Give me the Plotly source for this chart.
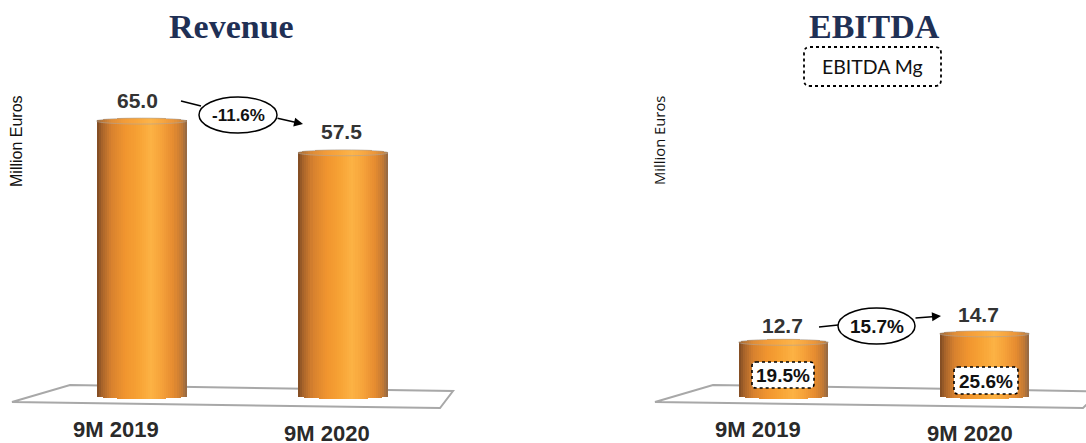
import plotly.graph_objects as go
import numpy as np

# ---------------- data ----------------
categories = ["9M 2019", "9M 2020"]
revenue = [65.0, 57.5]
ebitda = [12.7, 14.7]
ebitda_margin = ["19.5%", "25.6%"]
revenue_change = "-11.6%"
ebitda_change = "15.7%"
titles = ["Revenue", "EBITDA"]
y_title = "Million Euros"
margin_box_title = "EBITDA Mg"

W, H = 1086, 443
def X(px): return px / W
def Y(py): return 1 - py / H

K = 4.23          # px per million euros
BASE_PX = 396     # pixel row of zero
ylo = -(H - BASE_PX) / K
yhi = BASE_PX / K

HW = 0.2235
HCAP = 3.0 / K
N = 44

stops = [(0.0, "#7E4A22"), (0.06, "#A9642A"), (0.16, "#D7812E"), (0.32, "#F1952F"),
         (0.48, "#F8A436"), (0.6, "#FCB244"), (0.72, "#F6A23A"), (0.85, "#E68C30"),
         (0.94, "#C47A34"), (1.0, "#8F6846")]

def hex2rgb(h):
    h = h.lstrip("#")
    return [int(h[i:i + 2], 16) for i in (0, 2, 4)]

def grad(t):
    for (t0, c0), (t1, c1) in zip(stops[:-1], stops[1:]):
        if t0 <= t <= t1:
            f = (t - t0) / (t1 - t0) if t1 > t0 else 0
            a, b = hex2rgb(c0), hex2rgb(c1)
            return "rgb(%d,%d,%d)" % tuple(round(a[i] + (b[i] - a[i]) * f) for i in range(3))
    return stops[-1][1]

fig = go.Figure()

def add_cylinders(values, xa, ya):
    xs = np.arange(len(values))
    sw = 2 * HW / N
    for k in range(N):
        off = -HW + (k + 0.5) * sw
        e = HCAP * np.sqrt(max(0.0, 1 - (off / HW) ** 2))
        fig.add_trace(go.Bar(
            x=xs + off, y=[v + 2 * e for v in values], base=[-e] * len(values),
            width=sw * 1.04, marker=dict(color=grad((k + 0.5) / N), line=dict(width=0)),
            xaxis=xa, yaxis=ya, showlegend=False, hoverinfo="skip"))
    for i, v in enumerate(values):
        fig.add_shape(type="circle", xref=xa, yref=ya,
                      x0=i - HW, x1=i + HW, y0=v - HCAP, y1=v + HCAP,
                      fillcolor="rgba(255,190,100,0.2)",
                      line=dict(color="rgba(175,165,155,0.6)", width=1))

add_cylinders(revenue, "x", "y")
add_cylinders(ebitda, "x2", "y2")

u1 = 201.5
u2 = 201.0
fig.update_layout(
    width=W, height=H, margin=dict(l=0, r=0, t=0, b=0),
    paper_bgcolor="white", plot_bgcolor="rgba(0,0,0,0)",
    barmode="overlay", bargap=0, showlegend=False,
    xaxis=dict(domain=[X(141.5 - 0.5 * u1), X(141.5 + 1.5 * u1)], range=[-0.5, 1.5],
               visible=False),
    yaxis=dict(domain=[0, 1], range=[ylo, yhi], visible=False),
    xaxis2=dict(domain=[X(783.5 - 0.5 * u2), min(1.0, X(783.5 + 1.5 * u2))], range=[-0.5, 1.5],
                visible=False, anchor="y2"),
    yaxis2=dict(domain=[0, 1], range=[ylo, yhi], visible=False, anchor="x2"),
)

def note(text, x, y, font, xref="paper", yref="paper", **kw):
    fig.add_annotation(text=text, xref=xref, yref=yref, x=x, y=y, showarrow=False,
                       xanchor="center", yanchor="middle", font=font, **kw)

# floor planes
floor_color = "#A8A8A8"
def floor(pts):
    path = "M " + " L ".join("%f,%f" % (X(a), Y(b)) for a, b in pts) + " Z"
    fig.add_shape(type="path", xref="paper", yref="paper", path=path, layer="below",
                  line=dict(color=floor_color, width=2), fillcolor="rgba(255,255,255,0)")
floor([(12, 402), (70, 385), (453, 391), (440, 408)])
floor([(655, 402), (713, 385), (1100, 391.5), (1083, 408)])

# titles
title_font = dict(family="Liberation Serif", size=34, color="#1F3055")
note("<b>%s</b>" % titles[0], X(231), Y(26), title_font)
note("<b>%s</b>" % titles[1], X(874), Y(26), title_font)

# y titles
note(y_title, X(17), Y(141), dict(family="Liberation Sans", size=16, color="#111111"),
     textangle=-90)
note(y_title, X(659), Y(141), dict(family="Open Sans", size=14.8, color="#111111"),
     textangle=-90)

# category labels
cat_font = dict(family="Liberation Sans", size=22, color="#2A2A2A")
for xa, shifts in (("x", [-26, -16]), ("x2", [-25.5, -14.5])):
    for i, c in enumerate(categories):
        note("<b>%s</b>" % c, i, Y([429, 433][i]), cat_font, xref=xa, xshift=shifts[i])

# value labels
val_font = dict(family="Liberation Sans", size=21, color="#333333")
for xa, ya, vals, xsh, ysh in (("x", "y", revenue, [-4, -1.5], [19, 19]),
                               ("x2", "y2", ebitda, [-1.5, -6.5], [15, 17])):
    for i, v in enumerate(vals):
        note("<b>%.1f</b>" % v, i, v, val_font, xref=xa, yref=ya,
             yshift=ysh[i] + 2, xshift=xsh[i])

# growth ellipses and arrows
def growth(text, cx, cy, w, h, l0, l1, a0, a1, size):
    fig.add_shape(type="circle", xref="paper", yref="paper",
                  x0=X(cx - w / 2), x1=X(cx + w / 2), y0=Y(cy + h / 2), y1=Y(cy - h / 2),
                  line=dict(color="black", width=1.5), fillcolor="white")
    fig.add_shape(type="line", xref="paper", yref="paper",
                  x0=X(l0[0]), y0=Y(l0[1]), x1=X(l1[0]), y1=Y(l1[1]),
                  line=dict(color="black", width=1.5))
    fig.add_annotation(text="", xref="paper", yref="paper", axref="pixel", ayref="pixel",
                       x=X(a1[0]), y=Y(a1[1]), ax=a0[0] - a1[0], ay=a0[1] - a1[1],
                       showarrow=True, arrowhead=2, arrowsize=1.2, arrowwidth=1.5,
                       arrowcolor="black")
    note("<b>%s</b>" % text, X(cx), Y(cy), dict(family="Liberation Sans", size=size, color="#111111"))

growth(revenue_change, 238, 115, 78, 36, (181, 101), (201, 106), (276, 118), (303, 124), 17)
growth(ebitda_change, 876.5, 326, 77, 36, (819, 327), (838, 325), (914, 318), (941, 316), 19)

# dotted rounded boxes
def rbox(x0, y0, x1, y1, r, fill, width=1.8):
    p = ("M %f,%f L %f,%f Q %f,%f %f,%f L %f,%f Q %f,%f %f,%f L %f,%f Q %f,%f %f,%f "
         "L %f,%f Q %f,%f %f,%f Z") % (
        X(x0 + r), Y(y0), X(x1 - r), Y(y0), X(x1), Y(y0), X(x1), Y(y0 + r),
        X(x1), Y(y1 - r), X(x1), Y(y1), X(x1 - r), Y(y1),
        X(x0 + r), Y(y1), X(x0), Y(y1), X(x0), Y(y1 - r),
        X(x0), Y(y0 + r), X(x0), Y(y0), X(x0 + r), Y(y0))
    fig.add_shape(type="path", xref="paper", yref="paper", path=p,
                  line=dict(color="black", width=width, dash="dot"), fillcolor=fill)

rbox(804, 47, 941, 86, 6, "white")
note(margin_box_title, X(872.5), Y(67), dict(family="Lato", size=19.5, color="#111111"))

for (x0, y0, x1, y1), m in zip([(752, 362, 814, 388), (954, 367, 1018, 394)], ebitda_margin):
    rbox(x0, y0, x1, y1, 4, "white", 1.6)
    note("<b>%s</b>" % m, X((x0 + x1) / 2), Y((y0 + y1) / 2 + 0.5),
         dict(family="Liberation Sans", size=19, color="#111111"))

fig.write_html("out.html", config={"displayModeBar": False},
               post_script="document.body.style.margin='0';")
